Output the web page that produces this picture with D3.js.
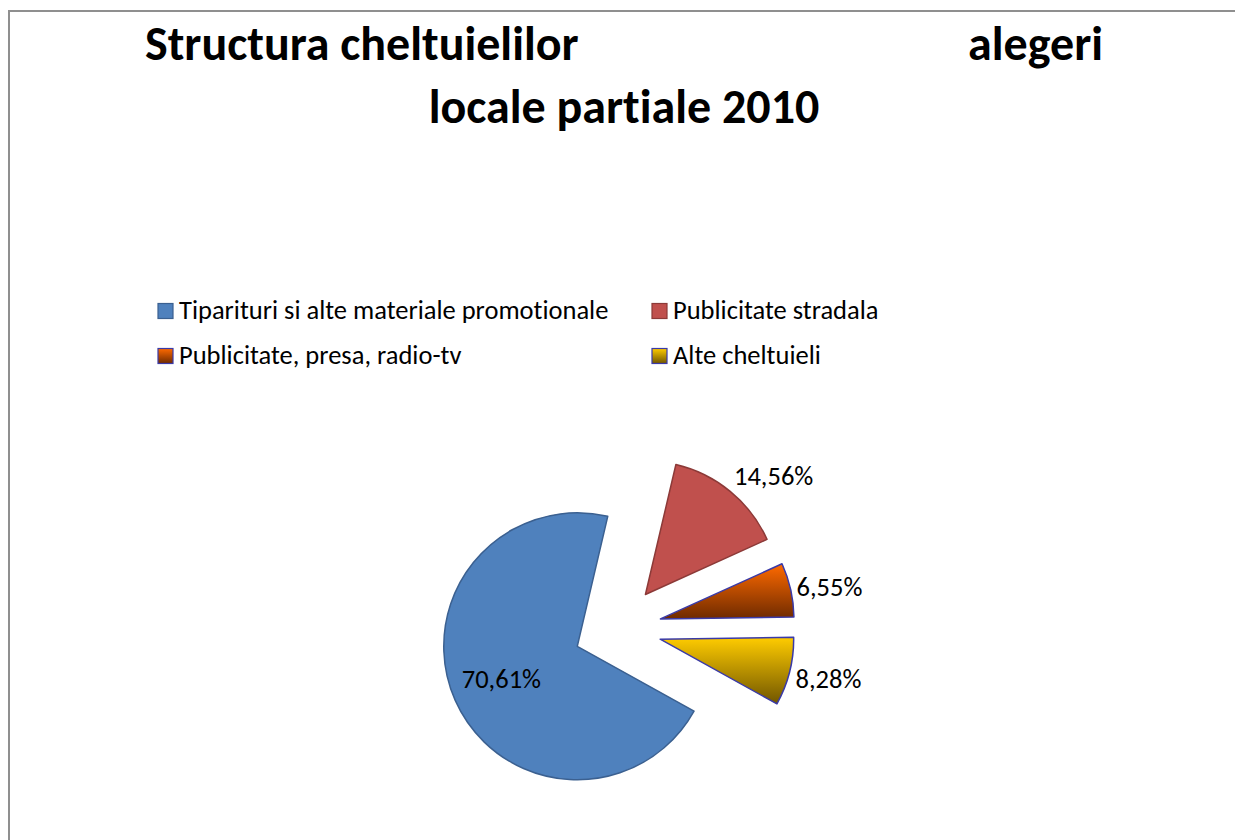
<!DOCTYPE html>
<html>
<head>
<meta charset="utf-8">
<script src="https://cdn.jsdelivr.net/npm/d3@7"></script>
<style>
  body { margin: 0; background: #fff; }
  text {
    font-family: Carlito, Calibri, Lato, sans-serif; fill: #000;
    font-variant-ligatures: none; font-feature-settings: "liga" 0, "clig" 0;
  }
</style>
</head>
<body>
<div id="chart"></div>
<script>
// chart data
var categories = ["Tiparituri si alte materiale promotionale", "Publicitate stradala",
                  "Publicitate, presa, radio-tv", "Alte cheltuieli"];
var shares = [70.61, 14.56, 6.55, 8.28];
var labels = ["70,61%", "14,56%", "6,55%", "8,28%"];
var titleLine1 = ["Structura cheltuielilor", "alegeri"];
var titleLine2 = "locale partiale 2010";

var width = 1235, height = 840;

var svg = d3.select("#chart")
  .append("svg")
    .attr("width", width)
    .attr("height", height);

// gradients for the two shaded slices
var defs = svg.append("defs");
function grad(id, top, bottom) {
  var g = defs.append("linearGradient")
    .attr("id", id)
    .attr("x1", 0).attr("y1", 0).attr("x2", 0).attr("y2", 1);
  g.append("stop").attr("offset", "0%").attr("stop-color", top);
  g.append("stop").attr("offset", "100%").attr("stop-color", bottom);
}
grad("gOrange", "#ff6a00", "#6e2a00");
grad("gYellow", "#ffcc00", "#705500");

var fills = ["#4f81bd", "#c0504d", "url(#gOrange)", "url(#gYellow)"];
var strokes = ["#3b6090", "#8c3a38", "#3a3aa8", "#3a3aa8"];

// chart area border
svg.append("rect")
  .attr("x", 9).attr("y", 11)
  .attr("width", 1300).attr("height", 900)
  .attr("fill", "none")
  .attr("stroke", "#8f8f8f")
  .attr("stroke-width", 2);

// title
svg.append("text")
  .attr("x", 145).attr("y", 60)
  .style("font-size", "48px").style("font-weight", "bold")
  .text(titleLine1[0]);
svg.append("text")
  .attr("x", 1103).attr("y", 60)
  .attr("text-anchor", "end")
  .style("font-size", "48px").style("font-weight", "bold")
  .text(titleLine1[1]);
svg.append("text")
  .attr("x", 624).attr("y", 123)
  .attr("text-anchor", "middle")
  .style("font-size", "48px").style("font-weight", "bold")
  .text(titleLine2);

// legend, two columns
var legendX = d3.scaleOrdinal().domain([0, 1]).range([158, 652]);
var legendY = d3.scaleOrdinal().domain([0, 1]).range([311, 356]);

var legend = svg.selectAll(".legend")
  .data(categories)
  .enter()
  .append("g")
    .attr("class", "legend")
    .attr("transform", function(d, i) {
      return "translate(" + legendX(i % 2) + "," + legendY(Math.floor(i / 2)) + ")";
    });

legend.append("rect")
  .attr("x", 0).attr("y", -7.5)
  .attr("width", 15).attr("height", 15)
  .attr("fill", function(d, i) { return fills[i]; })
  .attr("stroke", function(d, i) { return strokes[i]; })
  .attr("stroke-width", 1.2);

legend.append("text")
  .attr("x", 21).attr("y", 8)
  .style("font-size", "26.5px")
  .text(function(d) { return d; });

// exploded pie
var cx = 617.5, cy = 628.5, radius = 133.5, explode = 44;
var startAngle = 119 * Math.PI / 180;

var pie = d3.pie()
  .sort(null)
  .startAngle(startAngle)
  .endAngle(startAngle + 2 * Math.PI)
  .value(function(d) { return d; });

var arc = d3.arc().innerRadius(0).outerRadius(radius);

var arcs = pie(shares);

function offset(d, dist) {
  var mid = (d.startAngle + d.endAngle) / 2;
  return [Math.sin(mid) * dist, -Math.cos(mid) * dist];
}

var slices = svg.append("g")
  .attr("transform", "translate(" + cx + "," + cy + ")");

var slice = slices.selectAll(".slice")
  .data(arcs)
  .enter()
  .append("g")
    .attr("class", "slice")
    .attr("transform", function(d) {
      var o = offset(d, explode);
      return "translate(" + o[0] + "," + o[1] + ")";
    });

slice.append("path")
  .attr("d", arc)
  .attr("fill", function(d, i) { return fills[i]; })
  .attr("stroke", function(d, i) { return strokes[i]; })
  .attr("stroke-width", 1.5)
  .attr("stroke-linejoin", "round");

// data labels: the big slice inside, the small ones outside the arc
slice.append("text")
  .style("font-size", "26.5px")
  .attr("text-anchor", function(d) { return d.value > 50 ? "middle" : "start"; })
  .attr("x", function(d) {
    return d.value > 50 ? offset(d, 83)[0] : offset(d, radius + 6)[0];
  })
  .attr("y", function(d) {
    if (d.value > 50) return offset(d, 83)[1] + 8;
    var mid = (d.startAngle + d.endAngle) / 2;
    return offset(d, radius + 6)[1] + 11 - Math.cos(mid) * 16;
  })
  .text(function(d, i) { return labels[i]; });
</script>
</body>
</html>
